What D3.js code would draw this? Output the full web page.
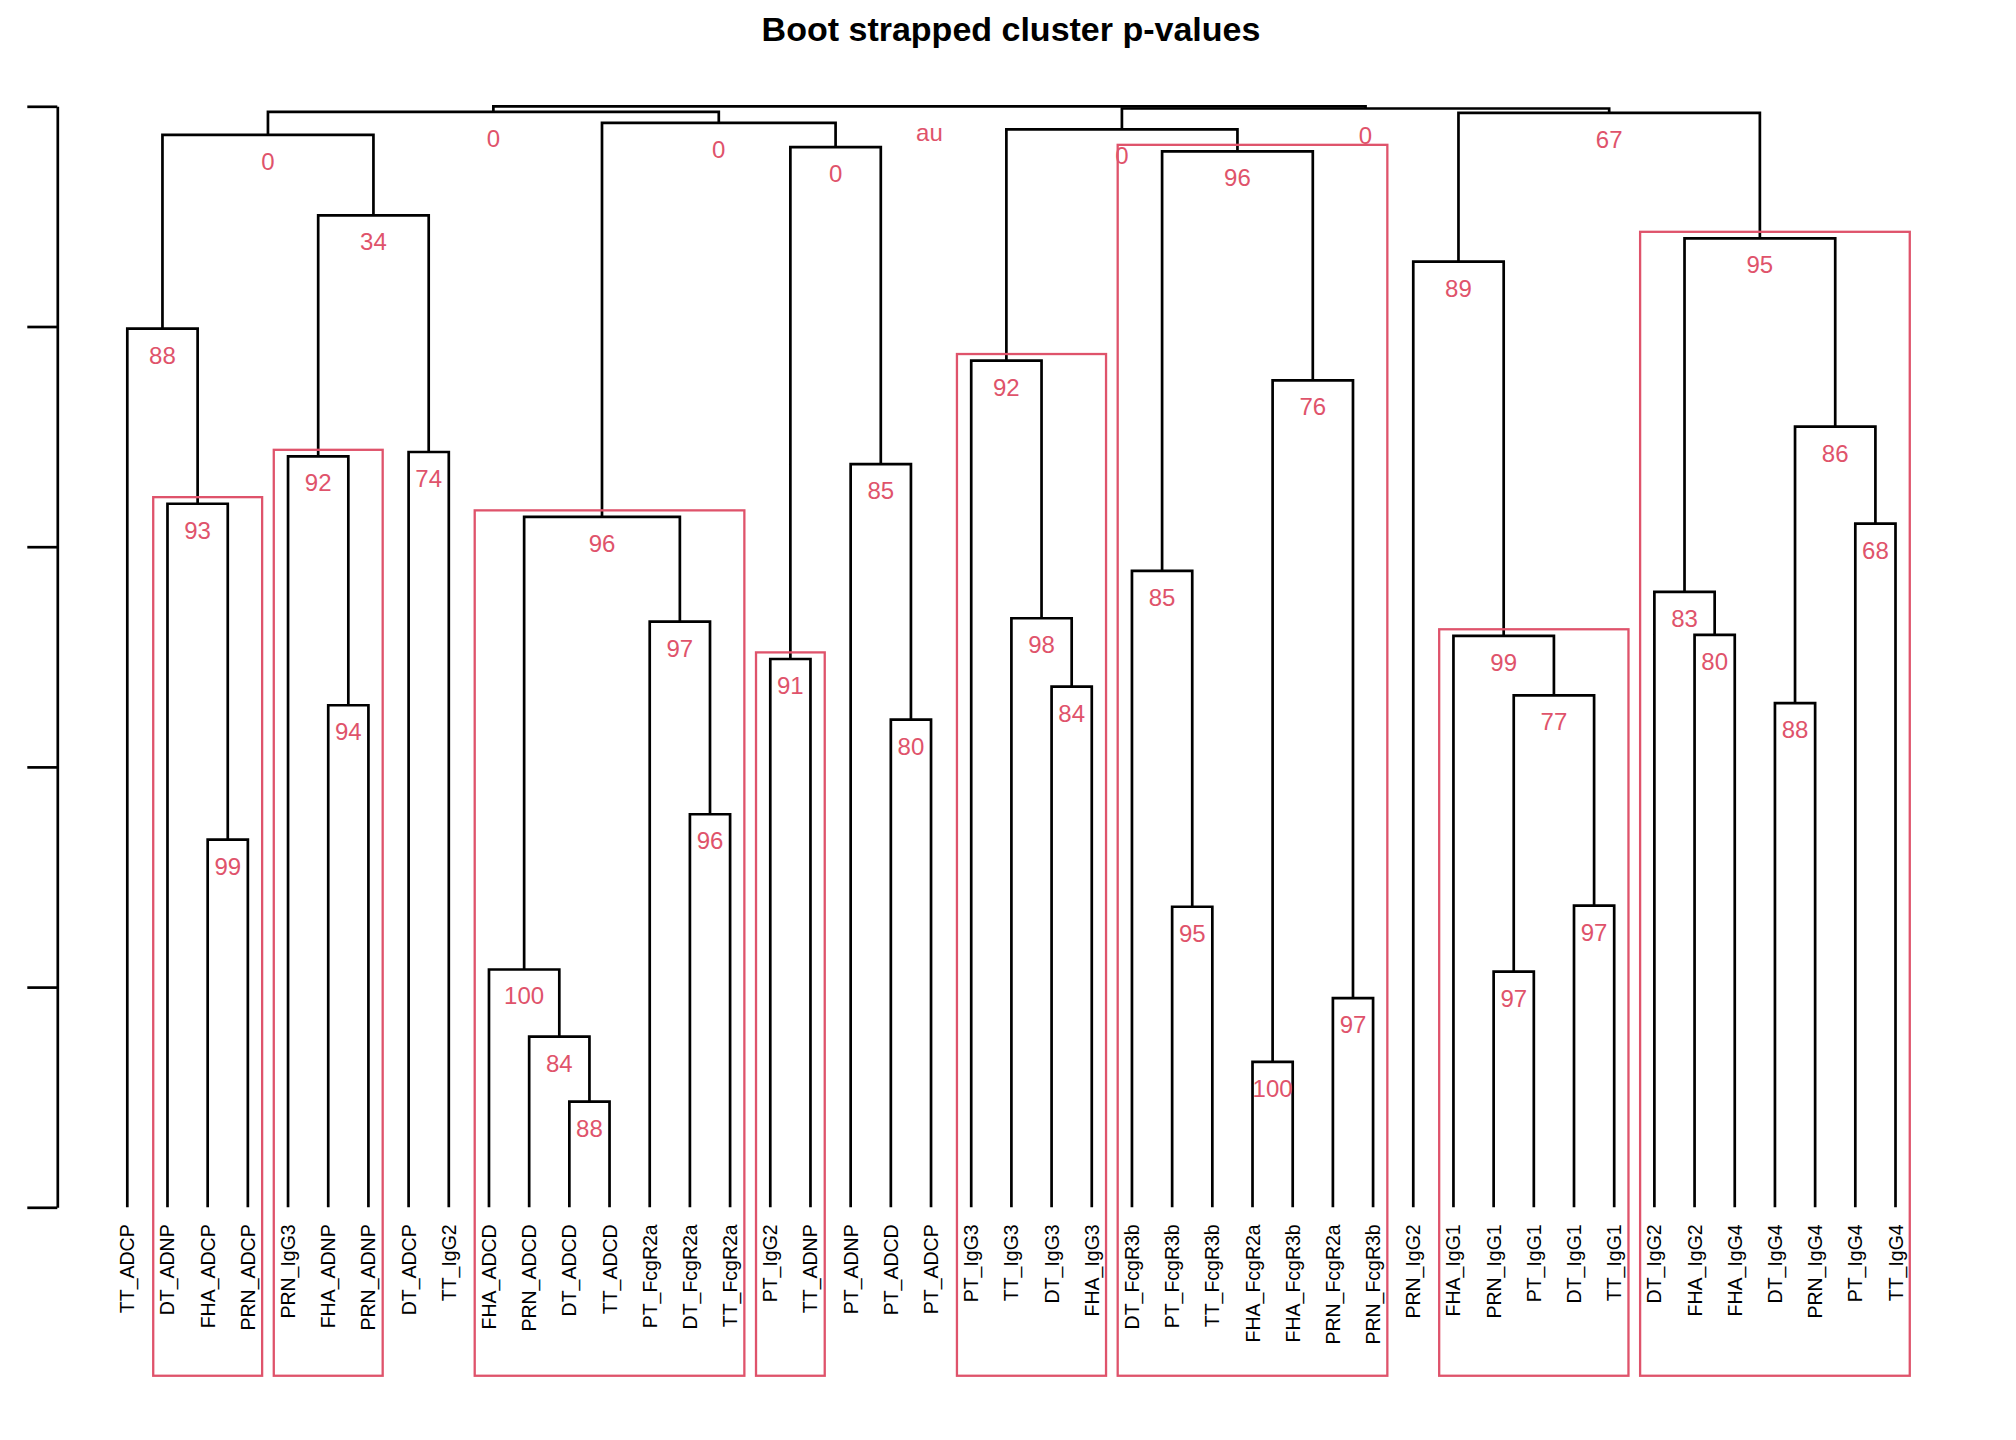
<!DOCTYPE html>
<html>
<head>
<meta charset="utf-8">
<script src="https://cdn.jsdelivr.net/npm/d3@7"></script>
<style>
  body { margin: 0; background: #fff; }
  text { font-family: "Liberation Sans", Arial, sans-serif; }
</style>
</head>
<body>
<svg width="2016" height="1440"></svg>
<script>
// leaves in plotting order
const leaves = [
  "TT_ADCP", "DT_ADNP", "FHA_ADCP", "PRN_ADCP", "PRN_IgG3", "FHA_ADNP", "PRN_ADNP",
  "DT_ADCP", "TT_IgG2", "FHA_ADCD", "PRN_ADCD", "DT_ADCD", "TT_ADCD", "PT_FcgR2a",
  "DT_FcgR2a", "TT_FcgR2a", "PT_IgG2", "TT_ADNP", "PT_ADNP", "PT_ADCD", "PT_ADCP",
  "PT_IgG3", "TT_IgG3", "DT_IgG3", "FHA_IgG3", "DT_FcgR3b", "PT_FcgR3b", "TT_FcgR3b",
  "FHA_FcgR2a", "FHA_FcgR3b", "PRN_FcgR2a", "PRN_FcgR3b", "PRN_IgG2", "FHA_IgG1",
  "PRN_IgG1", "PT_IgG1", "DT_IgG1", "TT_IgG1", "DT_IgG2", "FHA_IgG2", "FHA_IgG4",
  "DT_IgG4", "PRN_IgG4", "PT_IgG4", "TT_IgG4"
];

// hclust style merge table: negative = leaf (1-based), positive = earlier merge row
const merges = [
  [-12, -13], [-29, -30], [-11, 1], [-31, -32], [-35, -36], [-10, 3], [-27, -28],
  [-37, -38], [-3, -4], [-15, -16], [-20, -21], [-6, -7], [-42, -43], [5, 8],
  [-24, -25], [-17, -18], [-34, 14], [-40, -41], [-14, 10], [-23, 15], [-39, 18],
  [-26, 7], [-44, -45], [6, 19], [-2, 9], [-19, 11], [-5, 12], [-8, -9],
  [13, 23], [2, 4], [-22, 20], [-1, 25], [-33, 17], [21, 29], [27, 28],
  [22, 30], [16, 26], [32, 35], [31, 36], [24, 37], [33, 34], [38, 40],
  [39, 41], [42, 43]
];

const heights = [
  0.096, 0.132, 0.155, 0.190, 0.214, 0.216, 0.273,
  0.274, 0.334, 0.357, 0.443, 0.456, 0.458, 0.465,
  0.473, 0.498, 0.519, 0.520, 0.532, 0.535, 0.559,
  0.578, 0.621, 0.627, 0.639, 0.675, 0.682, 0.686,
  0.709, 0.751, 0.769, 0.798, 0.859, 0.880, 0.901,
  0.959, 0.963, 0.974, 0.979, 0.985, 0.994, 0.995,
  0.998, 1.000
];

// approximately unbiased p-values (%), root has none
const auValues = [
  88, 100, 84, 97, 97, 100, 95,
  97, 99, 96, 80, 94, 88, 77,
  84, 91, 99, 80, 97, 98, 83,
  85, 68, 96, 93, 85, 92, 74,
  86, 76, 92, 88, 89, 95, 34,
  96, 0, 0, 0, 0, 67, 0,
  0, null
];

const yTicks = [0, 0.2, 0.4, 0.6, 0.8, 1.0];
const alpha = 90;
const red = "#DF536B";

const svg = d3.select("svg");

const x = d3.scaleLinear().domain([1, leaves.length]).range([127.3, 1895.5]);
const y = d3.scaleLinear().domain([0, 1]).range([1207.3, 106.3]);

// node positions and leaf spans
const nodeX = [];
const span = [];
const parent = [];
const cx = c => c < 0 ? x(-c) : nodeX[c - 1];
const cy = c => c < 0 ? y(0) : y(heights[c - 1]);
const cspan = c => c < 0 ? [-c, -c] : span[c - 1];

merges.forEach(([a, b], i) => {
  nodeX[i] = (cx(a) + cx(b)) / 2;
  span[i] = [Math.min(cspan(a)[0], cspan(b)[0]), Math.max(cspan(a)[1], cspan(b)[1])];
  if (a > 0) parent[a - 1] = i;
  if (b > 0) parent[b - 1] = i;
});

// title
svg.append("text")
  .attr("x", 1011)
  .attr("y", 41)
  .attr("text-anchor", "middle")
  .attr("font-size", 34)
  .attr("font-weight", "bold")
  .text("Boot strapped cluster p-values");

// axis without labels
const eixo = svg.append("g")
  .attr("transform", "translate(57.3,0)")
  .call(d3.axisLeft(y).tickValues(yTicks).tickSize(30).tickSizeOuter(0).tickFormat(""));
eixo.selectAll("path, line").attr("stroke", "#000").attr("stroke-width", 2.7);

// dendrogram branches
svg.append("g")
  .selectAll("path")
  .data(merges)
  .join("path")
    .attr("d", ([a, b], i) => `M${cx(a)},${cy(a)}V${y(heights[i])}H${cx(b)}V${cy(b)}`)
    .attr("fill", "none")
    .attr("stroke", "#000")
    .attr("stroke-width", 2.7)
    .attr("stroke-linejoin", "miter");

// leaf labels
svg.append("g")
  .selectAll("text")
  .data(leaves)
  .join("text")
    .attr("transform", (d, i) => `translate(${x(i + 1) + 7},${y(0) + 17}) rotate(-90)`)
    .attr("text-anchor", "end")
    .attr("font-size", 19.5)
    .text(d => d);

// au values
svg.append("g")
  .selectAll("text")
  .data(auValues)
  .join("text")
    .attr("x", (d, i) => nodeX[i])
    .attr("y", (d, i) => y(heights[i]) + 35)
    .attr("text-anchor", "middle")
    .attr("font-size", 24)
    .attr("fill", red)
    .text(d => d === null ? "au" : d);

// rectangles around the largest clusters with au >= alpha
const picked = auValues.map((v, i) => i).filter(i => {
  if (auValues[i] === null || auValues[i] < alpha) return false;
  let p = parent[i];
  while (p !== undefined) {
    if (auValues[p] !== null && auValues[p] >= alpha) return false;
    p = parent[p];
  }
  return true;
});

svg.append("g")
  .selectAll("rect")
  .data(picked)
  .join("rect")
    .attr("x", i => x(span[i][0] - 0.355))
    .attr("width", i => x(span[i][1] + 0.355) - x(span[i][0] - 0.355))
    .attr("y", i => y(heights[i] + 0.006))
    .attr("height", i => y(-0.153) - y(heights[i] + 0.006))
    .attr("fill", "none")
    .attr("stroke", red)
    .attr("stroke-width", 2.3);
</script>
</body>
</html>
